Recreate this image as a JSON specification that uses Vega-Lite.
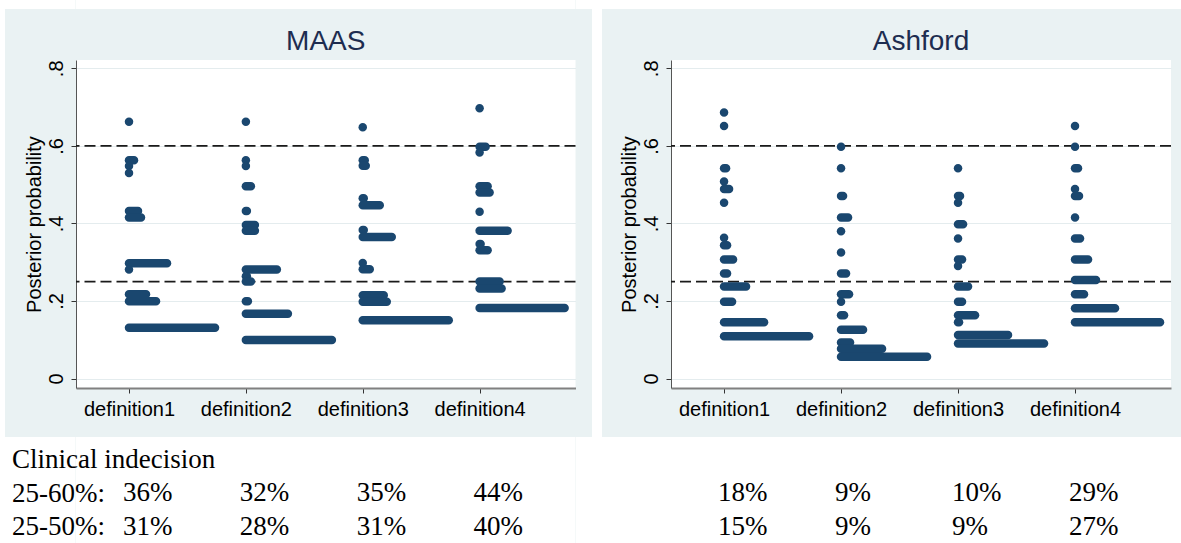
{
"$schema": "https://vega.github.io/schema/vega-lite/v6.json",
"background": "#EAF2F3",
"padding": 0,
"config": {"view": {"stroke": null}, "font": "Liberation Sans"},
"datasets": {
"panels": [{"panel": "MAAS"}, {"panel": "Ashford"}],
"cuts": [{"cut": 0.25}, {"cut": 0.6}],
"dots": [
{"panel":"MAAS","def":"definition1","p":0.662,"n":1},
{"panel":"MAAS","def":"definition1","p":0.563,"n":6},
{"panel":"MAAS","def":"definition1","p":0.548,"n":1},
{"panel":"MAAS","def":"definition1","p":0.530,"n":1},
{"panel":"MAAS","def":"definition1","p":0.432,"n":10},
{"panel":"MAAS","def":"definition1","p":0.415,"n":13},
{"panel":"MAAS","def":"definition1","p":0.297,"n":39},
{"panel":"MAAS","def":"definition1","p":0.281,"n":1},
{"panel":"MAAS","def":"definition1","p":0.217,"n":18},
{"panel":"MAAS","def":"definition1","p":0.199,"n":28},
{"panel":"MAAS","def":"definition1","p":0.131,"n":87},
{"panel":"MAAS","def":"definition2","p":0.662,"n":1},
{"panel":"MAAS","def":"definition2","p":0.563,"n":1},
{"panel":"MAAS","def":"definition2","p":0.548,"n":1},
{"panel":"MAAS","def":"definition2","p":0.496,"n":6},
{"panel":"MAAS","def":"definition2","p":0.432,"n":2},
{"panel":"MAAS","def":"definition2","p":0.396,"n":10},
{"panel":"MAAS","def":"definition2","p":0.381,"n":10},
{"panel":"MAAS","def":"definition2","p":0.281,"n":32},
{"panel":"MAAS","def":"definition2","p":0.264,"n":2},
{"panel":"MAAS","def":"definition2","p":0.25,"n":6},
{"panel":"MAAS","def":"definition2","p":0.199,"n":3},
{"panel":"MAAS","def":"definition2","p":0.167,"n":43},
{"panel":"MAAS","def":"definition2","p":0.099,"n":87},
{"panel":"MAAS","def":"definition3","p":0.648,"n":1},
{"panel":"MAAS","def":"definition3","p":0.563,"n":3},
{"panel":"MAAS","def":"definition3","p":0.549,"n":4},
{"panel":"MAAS","def":"definition3","p":0.465,"n":2},
{"panel":"MAAS","def":"definition3","p":0.447,"n":18},
{"panel":"MAAS","def":"definition3","p":0.383,"n":2},
{"panel":"MAAS","def":"definition3","p":0.365,"n":30},
{"panel":"MAAS","def":"definition3","p":0.298,"n":1},
{"panel":"MAAS","def":"definition3","p":0.282,"n":8},
{"panel":"MAAS","def":"definition3","p":0.215,"n":22},
{"panel":"MAAS","def":"definition3","p":0.198,"n":25},
{"panel":"MAAS","def":"definition3","p":0.150,"n":87},
{"panel":"MAAS","def":"definition4","p":0.697,"n":1},
{"panel":"MAAS","def":"definition4","p":0.598,"n":7},
{"panel":"MAAS","def":"definition4","p":0.583,"n":1},
{"panel":"MAAS","def":"definition4","p":0.496,"n":9},
{"panel":"MAAS","def":"definition4","p":0.480,"n":11},
{"panel":"MAAS","def":"definition4","p":0.430,"n":1},
{"panel":"MAAS","def":"definition4","p":0.381,"n":29},
{"panel":"MAAS","def":"definition4","p":0.347,"n":2},
{"panel":"MAAS","def":"definition4","p":0.331,"n":9},
{"panel":"MAAS","def":"definition4","p":0.25,"n":21},
{"panel":"MAAS","def":"definition4","p":0.232,"n":23},
{"panel":"MAAS","def":"definition4","p":0.182,"n":86},
{"panel":"Ashford","def":"definition1","p":0.686,"n":1},
{"panel":"Ashford","def":"definition1","p":0.651,"n":1},
{"panel":"Ashford","def":"definition1","p":0.542,"n":3},
{"panel":"Ashford","def":"definition1","p":0.508,"n":1},
{"panel":"Ashford","def":"definition1","p":0.489,"n":6},
{"panel":"Ashford","def":"definition1","p":0.453,"n":1},
{"panel":"Ashford","def":"definition1","p":0.363,"n":1},
{"panel":"Ashford","def":"definition1","p":0.344,"n":4},
{"panel":"Ashford","def":"definition1","p":0.307,"n":10},
{"panel":"Ashford","def":"definition1","p":0.271,"n":4},
{"panel":"Ashford","def":"definition1","p":0.237,"n":23},
{"panel":"Ashford","def":"definition1","p":0.198,"n":9},
{"panel":"Ashford","def":"definition1","p":0.145,"n":41},
{"panel":"Ashford","def":"definition1","p":0.109,"n":86},
{"panel":"Ashford","def":"definition2","p":0.598,"n":1},
{"panel":"Ashford","def":"definition2","p":0.542,"n":1},
{"panel":"Ashford","def":"definition2","p":0.471,"n":3},
{"panel":"Ashford","def":"definition2","p":0.415,"n":8},
{"panel":"Ashford","def":"definition2","p":0.380,"n":1},
{"panel":"Ashford","def":"definition2","p":0.325,"n":1},
{"panel":"Ashford","def":"definition2","p":0.271,"n":6},
{"panel":"Ashford","def":"definition2","p":0.217,"n":9},
{"panel":"Ashford","def":"definition2","p":0.198,"n":1},
{"panel":"Ashford","def":"definition2","p":0.163,"n":4},
{"panel":"Ashford","def":"definition2","p":0.126,"n":23},
{"panel":"Ashford","def":"definition2","p":0.093,"n":10},
{"panel":"Ashford","def":"definition2","p":0.077,"n":42},
{"panel":"Ashford","def":"definition2","p":0.056,"n":87},
{"panel":"Ashford","def":"definition3","p":0.542,"n":1},
{"panel":"Ashford","def":"definition3","p":0.471,"n":3},
{"panel":"Ashford","def":"definition3","p":0.453,"n":1},
{"panel":"Ashford","def":"definition3","p":0.398,"n":6},
{"panel":"Ashford","def":"definition3","p":0.361,"n":1},
{"panel":"Ashford","def":"definition3","p":0.307,"n":5},
{"panel":"Ashford","def":"definition3","p":0.290,"n":1},
{"panel":"Ashford","def":"definition3","p":0.237,"n":11},
{"panel":"Ashford","def":"definition3","p":0.198,"n":5},
{"panel":"Ashford","def":"definition3","p":0.163,"n":18},
{"panel":"Ashford","def":"definition3","p":0.145,"n":2},
{"panel":"Ashford","def":"definition3","p":0.112,"n":51},
{"panel":"Ashford","def":"definition3","p":0.090,"n":87},
{"panel":"Ashford","def":"definition4","p":0.651,"n":1},
{"panel":"Ashford","def":"definition4","p":0.598,"n":1},
{"panel":"Ashford","def":"definition4","p":0.542,"n":4},
{"panel":"Ashford","def":"definition4","p":0.489,"n":1},
{"panel":"Ashford","def":"definition4","p":0.471,"n":5},
{"panel":"Ashford","def":"definition4","p":0.415,"n":1},
{"panel":"Ashford","def":"definition4","p":0.361,"n":6},
{"panel":"Ashford","def":"definition4","p":0.307,"n":14},
{"panel":"Ashford","def":"definition4","p":0.254,"n":22},
{"panel":"Ashford","def":"definition4","p":0.217,"n":10},
{"panel":"Ashford","def":"definition4","p":0.181,"n":41},
{"panel":"Ashford","def":"definition4","p":0.145,"n":86}
],
"pcts": [
{"panel":"MAAS","def":"definition1","row":"25-60%:","pct":0.36},
{"panel":"MAAS","def":"definition2","row":"25-60%:","pct":0.32},
{"panel":"MAAS","def":"definition3","row":"25-60%:","pct":0.35},
{"panel":"MAAS","def":"definition4","row":"25-60%:","pct":0.44},
{"panel":"MAAS","def":"definition1","row":"25-50%:","pct":0.31},
{"panel":"MAAS","def":"definition2","row":"25-50%:","pct":0.28},
{"panel":"MAAS","def":"definition3","row":"25-50%:","pct":0.31},
{"panel":"MAAS","def":"definition4","row":"25-50%:","pct":0.40},
{"panel":"Ashford","def":"definition1","row":"25-60%:","pct":0.18},
{"panel":"Ashford","def":"definition2","row":"25-60%:","pct":0.09},
{"panel":"Ashford","def":"definition3","row":"25-60%:","pct":0.10},
{"panel":"Ashford","def":"definition4","row":"25-60%:","pct":0.29},
{"panel":"Ashford","def":"definition1","row":"25-50%:","pct":0.15},
{"panel":"Ashford","def":"definition2","row":"25-50%:","pct":0.09},
{"panel":"Ashford","def":"definition3","row":"25-50%:","pct":0.09},
{"panel":"Ashford","def":"definition4","row":"25-50%:","pct":0.27}
]
},
"columns": 8,
"spacing": 0,
"bounds": "flush",
"align": "each",
"concat": [
{"width": 5, "height": 9, "view": {"fill": "#ffffff"}, "data": {"values": []}, "mark": "point"},
{"width": 70.5, "height": 9, "view": {"fill": "#ffffff"}, "data": {"values": []}, "mark": "point"},
{"width": 499.5, "height": 9, "view": {"fill": "#ffffff"}, "data": {"values": []}, "mark": "point"},
{"width": 16, "height": 9, "view": {"fill": "#ffffff"}, "data": {"values": []}, "mark": "point"},
{"width": 10, "height": 9, "view": {"fill": "#ffffff"}, "data": {"values": []}, "mark": "point"},
{"width": 69, "height": 9, "view": {"fill": "#ffffff"}, "data": {"values": []}, "mark": "point"},
{"width": 500, "height": 9, "view": {"fill": "#ffffff"}, "data": {"values": []}, "mark": "point"},
{"width": 11, "height": 9, "view": {"fill": "#ffffff"}, "data": {"values": []}, "mark": "point"},

{"width": 5, "height": 51, "view": {"fill": "#ffffff"}, "data": {"values": []}, "mark": "point"},
{"width": 70.5, "height": 51, "data": {"values": []}, "mark": "point"},
{"width": 499.5, "height": 51, "data": {"name": "panels"}, "transform": [{"filter": "datum.panel == 'MAAS'"}],
 "mark": {"type": "text", "font": "Liberation Sans", "fontSize": 28, "color": "#1E2D50", "align": "center", "baseline": "alphabetic", "dy": 15.5},
 "encoding": {"text": {"field": "panel", "type": "nominal"}}},
{"width": 16, "height": 51, "data": {"values": []}, "mark": "point"},
{"width": 10, "height": 51, "view": {"fill": "#ffffff"}, "data": {"values": []}, "mark": "point"},
{"width": 69, "height": 51, "data": {"values": []}, "mark": "point"},
{"width": 500, "height": 51, "data": {"name": "panels"}, "transform": [{"filter": "datum.panel == 'Ashford'"}],
 "mark": {"type": "text", "font": "Liberation Sans", "fontSize": 28, "color": "#1E2D50", "align": "center", "baseline": "alphabetic", "dy": 15.5},
 "encoding": {"text": {"field": "panel", "type": "nominal"}}},
{"width": 11, "height": 51, "data": {"values": []}, "mark": "point"},

{"width": 5, "height": 328, "view": {"fill": "#ffffff"}, "data": {"values": []}, "mark": "point"},
{"width": 70.5, "height": 328, "data": {"values": []}, "mark": "point"},
{
"width": 499.5, "height": 328,
"view": {"fill": "#ffffff"},
"layer": [
{"data": {"name": "cuts"}, "mark": {"type": "rule", "color": "#1a1a1a", "strokeWidth": 1.8, "strokeDash": [11, 5]},
 "encoding": {"y": {"field": "cut", "type": "quantitative", "title": "Posterior probability", "scale": {"domain": [-0.0245, 0.8215], "nice": false, "zero": false},
  "axis": {"values": [0, 0.2, 0.4, 0.6, 0.8], "labelExpr": "datum.value == 0 ? '0' : replace(format(datum.value, '.1f'), '0.', '.')", "labelAngle": -90, "labelAlign": "center", "labelBaseline": "alphabetic", "labelPadding": 9, "labelFont": "Liberation Sans", "labelFontSize": 20, "labelColor": "#000000", "labelFlush": false, "labelOverlap": false, "tickSize": 5, "tickColor": "#333333", "domainColor": "#555555", "domainWidth": 1, "grid": true, "gridColor": "#E4ECEE", "gridWidth": 1, "titleFont": "Liberation Sans", "titleFontSize": 20, "titleFontWeight": "normal", "titleColor": "#000000", "titlePadding": 5.5, "titleBaseline": "alphabetic", "minExtent": 30, "maxExtent": 30}}}},
{"data": {"name": "dots"}, "transform": [{"filter": "datum.panel == 'MAAS'"}],
 "mark": {"type": "tick", "orient": "horizontal", "thickness": 8.5, "cornerRadius": 4.25, "color": "#1A476F", "opacity": 1},
 "encoding": {
  "x": {"field": "def", "type": "nominal", "scale": {"type": "point", "domain": ["definition1", "definition2", "definition3", "definition4"], "padding": 0.637, "align": 0.356},
   "axis": {"title": null, "labelAngle": 0, "labelFont": "Liberation Sans", "labelFontSize": 20, "labelColor": "#000000", "labelBaseline": "alphabetic", "labelPadding": 22, "labelAlign": "center", "tickSize": 5, "tickColor": "#333333", "domainColor": "#808080", "domainWidth": 2, "grid": false}},
  "xOffset": {"field": "n", "type": "quantitative", "scale": {"type": "linear", "domain": [1, 100], "range": [0, 49.5], "zero": false, "nice": false}},
  "y": {"field": "p", "type": "quantitative", "title": "Posterior probability", "scale": {"domain": [-0.0245, 0.8215], "nice": false, "zero": false},
   "axis": {"values": [0, 0.2, 0.4, 0.6, 0.8], "labelExpr": "datum.value == 0 ? '0' : replace(format(datum.value, '.1f'), '0.', '.')", "labelAngle": -90, "labelAlign": "center", "labelBaseline": "alphabetic", "labelPadding": 9, "labelFont": "Liberation Sans", "labelFontSize": 20, "labelColor": "#000000", "labelFlush": false, "labelOverlap": false, "tickSize": 5, "tickColor": "#333333", "domainColor": "#555555", "domainWidth": 1, "grid": true, "gridColor": "#E4ECEE", "gridWidth": 1, "titleFont": "Liberation Sans", "titleFontSize": 20, "titleFontWeight": "normal", "titleColor": "#000000", "titlePadding": 5.5, "titleBaseline": "alphabetic", "minExtent": 30, "maxExtent": 30}},
  "size": {"field": "n", "type": "quantitative", "scale": {"type": "linear", "domain": [1, 100], "range": [8.5, 107.5], "zero": false, "nice": false}, "legend": null}
 }}
]
},
{"width": 16, "height": 328, "data": {"values": []}, "mark": "point"},
{"width": 10, "height": 328, "view": {"fill": "#ffffff"}, "data": {"values": []}, "mark": "point"},
{"width": 69, "height": 328, "data": {"values": []}, "mark": "point"},
{
"width": 500, "height": 328,
"view": {"fill": "#ffffff"},
"layer": [
{"data": {"name": "cuts"}, "mark": {"type": "rule", "color": "#1a1a1a", "strokeWidth": 1.8, "strokeDash": [11, 5]},
 "encoding": {"y": {"field": "cut", "type": "quantitative", "title": "Posterior probability", "scale": {"domain": [-0.0245, 0.8215], "nice": false, "zero": false},
  "axis": {"values": [0, 0.2, 0.4, 0.6, 0.8], "labelExpr": "datum.value == 0 ? '0' : replace(format(datum.value, '.1f'), '0.', '.')", "labelAngle": -90, "labelAlign": "center", "labelBaseline": "alphabetic", "labelPadding": 9, "labelFont": "Liberation Sans", "labelFontSize": 20, "labelColor": "#000000", "labelFlush": false, "labelOverlap": false, "tickSize": 5, "tickColor": "#333333", "domainColor": "#555555", "domainWidth": 1, "grid": true, "gridColor": "#E4ECEE", "gridWidth": 1, "titleFont": "Liberation Sans", "titleFontSize": 20, "titleFontWeight": "normal", "titleColor": "#000000", "titlePadding": 5.5, "titleBaseline": "alphabetic", "minExtent": 30, "maxExtent": 30}}}},
{"data": {"name": "dots"}, "transform": [{"filter": "datum.panel == 'Ashford'"}],
 "mark": {"type": "tick", "orient": "horizontal", "thickness": 8.5, "cornerRadius": 4.25, "color": "#1A476F", "opacity": 1},
 "encoding": {
  "x": {"field": "def", "type": "nominal", "scale": {"type": "point", "domain": ["definition1", "definition2", "definition3", "definition4"], "padding": 0.637, "align": 0.356},
   "axis": {"title": null, "labelAngle": 0, "labelFont": "Liberation Sans", "labelFontSize": 20, "labelColor": "#000000", "labelBaseline": "alphabetic", "labelPadding": 22, "labelAlign": "center", "tickSize": 5, "tickColor": "#333333", "domainColor": "#808080", "domainWidth": 2, "grid": false}},
  "xOffset": {"field": "n", "type": "quantitative", "scale": {"type": "linear", "domain": [1, 100], "range": [0, 49.5], "zero": false, "nice": false}},
  "y": {"field": "p", "type": "quantitative", "title": "Posterior probability", "scale": {"domain": [-0.0245, 0.8215], "nice": false, "zero": false},
   "axis": {"values": [0, 0.2, 0.4, 0.6, 0.8], "labelExpr": "datum.value == 0 ? '0' : replace(format(datum.value, '.1f'), '0.', '.')", "labelAngle": -90, "labelAlign": "center", "labelBaseline": "alphabetic", "labelPadding": 9, "labelFont": "Liberation Sans", "labelFontSize": 20, "labelColor": "#000000", "labelFlush": false, "labelOverlap": false, "tickSize": 5, "tickColor": "#333333", "domainColor": "#555555", "domainWidth": 1, "grid": true, "gridColor": "#E4ECEE", "gridWidth": 1, "titleFont": "Liberation Sans", "titleFontSize": 20, "titleFontWeight": "normal", "titleColor": "#000000", "titlePadding": 5.5, "titleBaseline": "alphabetic", "minExtent": 30, "maxExtent": 30}},
  "size": {"field": "n", "type": "quantitative", "scale": {"type": "linear", "domain": [1, 100], "range": [8.5, 107.5], "zero": false, "nice": false}, "legend": null}
 }}
]
},
{"width": 11, "height": 328, "data": {"values": []}, "mark": "point"},

{"width": 5, "height": 49, "view": {"fill": "#ffffff"}, "data": {"values": []}, "mark": "point"},
{"width": 70.5, "height": 49, "data": {"values": []}, "mark": "point"},
{"width": 499.5, "height": 49, "data": {"values": []}, "mark": "point"},
{"width": 16, "height": 49, "data": {"values": []}, "mark": "point"},
{"width": 10, "height": 49, "view": {"fill": "#ffffff"}, "data": {"values": []}, "mark": "point"},
{"width": 69, "height": 49, "data": {"values": []}, "mark": "point"},
{"width": 500, "height": 49, "data": {"values": []}, "mark": "point"},
{"width": 11, "height": 49, "data": {"values": []}, "mark": "point"},

{"width": 5, "height": 106, "view": {"fill": "#ffffff"}, "data": {"values": []}, "mark": "point"},
{"width": 70.5, "height": 106, "view": {"fill": "#ffffff"}, "data": {"values": []}, "mark": "point"},
{
"width": 499.5, "height": 106,
"view": {"fill": "#ffffff"},
"data": {"name": "pcts"},
"transform": [{"filter": "datum.panel == 'MAAS'"}],
"mark": {"type": "text", "align": "left", "baseline": "middle", "dx": -6, "font": "Liberation Serif", "fontSize": 27, "color": "#000000"},
"encoding": {
 "x": {"field": "def", "type": "nominal", "scale": {"type": "point", "domain": ["definition1", "definition2", "definition3", "definition4"], "padding": 0.637, "align": 0.356}, "axis": null},
 "y": {"field": "row", "type": "nominal", "scale": {"type": "point", "domain": ["Clinical indecision", "25-60%:", "25-50%:"], "padding": 0.577, "align": 0.58},
  "axis": {"title": null, "domain": false, "ticks": false, "tickSize": 0, "grid": false, "labelAlign": "left", "labelBaseline": "middle", "labelPadding": 64.5, "labelFont": "Liberation Serif", "labelFontSize": 27, "labelColor": "#000000", "labelLimit": 400}},
 "text": {"field": "pct", "type": "quantitative", "format": ".0%"}
}
},
{"width": 16, "height": 106, "view": {"fill": "#ffffff"}, "data": {"values": []}, "mark": "point"},
{"width": 10, "height": 106, "view": {"fill": "#ffffff"}, "data": {"values": []}, "mark": "point"},
{"width": 69, "height": 106, "view": {"fill": "#ffffff"}, "data": {"values": []}, "mark": "point"},
{
"width": 500, "height": 106,
"view": {"fill": "#ffffff"},
"data": {"name": "pcts"},
"transform": [{"filter": "datum.panel == 'Ashford'"}],
"mark": {"type": "text", "align": "left", "baseline": "middle", "dx": -6, "font": "Liberation Serif", "fontSize": 27, "color": "#000000"},
"encoding": {
 "x": {"field": "def", "type": "nominal", "scale": {"type": "point", "domain": ["definition1", "definition2", "definition3", "definition4"], "padding": 0.637, "align": 0.356}, "axis": null},
 "y": {"field": "row", "type": "nominal", "scale": {"type": "point", "domain": ["Clinical indecision", "25-60%:", "25-50%:"], "padding": 0.577, "align": 0.58}, "axis": null},
 "text": {"field": "pct", "type": "quantitative", "format": ".0%"}
}
},
{"width": 11, "height": 106, "view": {"fill": "#ffffff"}, "data": {"values": []}, "mark": "point"}
]
}
